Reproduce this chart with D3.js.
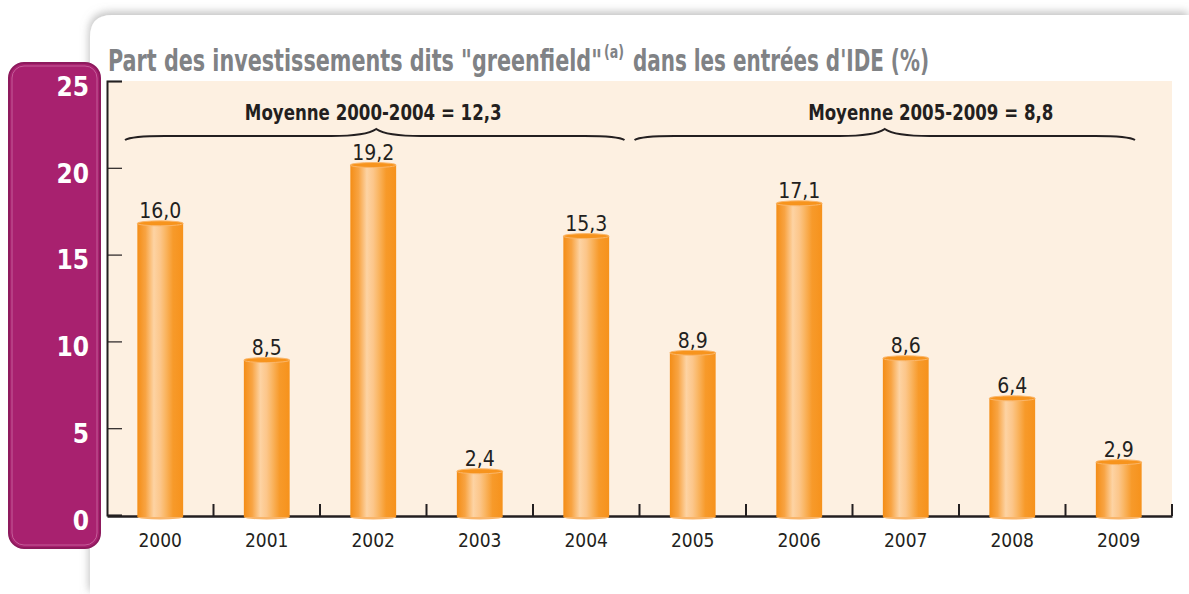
<!DOCTYPE html>
<html lang="fr">
<head>
<meta charset="utf-8">
<title>Part des investissements greenfield</title>
<script src="https://cdn.jsdelivr.net/npm/d3@7"></script>
<style>
  body{ margin:0; background:#fff; }
  svg{ display:block; }
  .narrow{ font-family:"DejaVu Sans Condensed","DejaVu Sans","Liberation Sans Narrow",sans-serif; font-stretch:condensed; }
</style>
</head>
<body>
<div id="chart"></div>
<script>
// data
var years = ["2000","2001","2002","2003","2004","2005","2006","2007","2008","2009"]
var shares = [16.0, 8.5, 19.2, 2.4, 15.3, 8.9, 17.1, 8.6, 6.4, 2.9]
var yTicks = [0, 5, 10, 15, 20, 25]
var averages = [
  {label:"Moyenne 2000-2004 = 12,3", from:"2000", to:"2004"},
  {label:"Moyenne 2005-2009 = 8,8", from:"2005", to:"2009"}
]

var W = 1189, H = 594
var pLeft = 107, pRight = 1172, pTop = 81, pBottom = 515

var svg = d3.select("#chart").append("svg").attr("width", W).attr("height", H)
var defs = svg.append("defs")

var shadow = defs.append("filter").attr("id","shadow").attr("x","-5%").attr("y","-5%").attr("width","110%").attr("height","110%")
shadow.append("feDropShadow").attr("dx",-1).attr("dy",-3).attr("stdDeviation",4)
  .attr("flood-color","#8a8a8a").attr("flood-opacity",0.55)

var grad = defs.append("linearGradient").attr("id","barGrad").attr("x1","0").attr("x2","1").attr("y1","0").attr("y2","0")
var stops = [[0,"#f48d16"],[0.18,"#f8a443"],[0.36,"#fdd3a3"],[0.5,"#fcc68a"],[0.6,"#fab868"],[0.78,"#f79a2a"],[1,"#f6921c"]]
stops.forEach(function(s){ grad.append("stop").attr("offset",s[0]).attr("stop-color",s[1]) })

// white card
svg.append("path")
  .attr("d","M90,594 L90,37 Q90,15 112,15 L1189,15 L1189,594 Z")
  .attr("fill","#fff").attr("filter","url(#shadow)")

// title, in three pieces so the footnote mark sits raised
var tg = svg.append("g").attr("class","narrow").attr("font-weight","bold").attr("fill","#808285")
tg.append("text").attr("x",108).attr("y",71).attr("font-size",31)
  .attr("textLength",494).attr("lengthAdjust","spacingAndGlyphs")
  .text('Part des investissements dits "greenfield"')
tg.append("text").attr("x",604).attr("y",58).attr("font-size",18)
  .attr("textLength",20).attr("lengthAdjust","spacingAndGlyphs").text("(a)")
tg.append("text").attr("x",633).attr("y",71).attr("font-size",31)
  .attr("textLength",296).attr("lengthAdjust","spacingAndGlyphs")
  .text("dans les entrées d'IDE (%)")

// plot background
svg.append("rect").attr("x",pLeft).attr("y",pTop).attr("width",pRight-pLeft).attr("height",pBottom-pTop+1)
  .attr("fill","#fdf0e1")

// purple axis panel
svg.append("rect").attr("x",9).attr("y",63).attr("width",91).attr("height",485).attr("rx",15)
  .attr("fill","#a8216f").attr("stroke","#8d1a5d").attr("stroke-width",2)
svg.append("rect").attr("x",12).attr("y",66).attr("width",85).attr("height",479).attr("rx",12)
  .attr("fill","none").attr("stroke","#c45d99").attr("stroke-width",1)

var x = d3.scaleBand().domain(years).range([pLeft, pRight]).padding(0)
var y = d3.scaleLinear().domain([0, 25]).range([pBottom, pTop])
// the bars in the original sit about 5% above their own axis
var yBar = d3.scaleLinear().domain([0, 25/1.05]).range([pBottom, pTop])

// y axis, ticks pointing into the plot, labels on the purple panel
var yAxis = svg.append("g").attr("transform","translate("+pLeft+",0)")
  .call(d3.axisLeft(y).tickValues(yTicks).tickSize(-15).tickPadding(18))
yAxis.select(".domain").attr("stroke","#231f20").attr("stroke-width",2)
yAxis.selectAll(".tick line").attr("stroke","#231f20").attr("stroke-width",1.2)
yAxis.selectAll(".tick text").attr("class","narrow").attr("font-size",26).attr("font-weight","bold")
  .attr("fill","#fff").attr("dy","0.55em")

// x axis
var xAxis = svg.append("g").attr("transform","translate(0,"+(pBottom+1)+")")
  .call(d3.axisBottom(x).tickSize(0).tickPadding(18))
xAxis.select(".domain").attr("stroke","#231f20").attr("stroke-width",2.5)
xAxis.selectAll(".tick text").attr("class","narrow").attr("font-size",19).attr("fill","#231f20")
svg.append("g").selectAll("line").data(years).join("line")
  .attr("x1",function(d){ return x(d)+x.bandwidth() }).attr("x2",function(d){ return x(d)+x.bandwidth() })
  .attr("y1",pBottom+1).attr("y2",pBottom-11)
  .attr("stroke","#231f20").attr("stroke-width",2)

// bars
var bw = x.bandwidth()*0.43
var bars = svg.append("g").selectAll("g").data(shares).join("g")
  .attr("transform",function(d,i){ return "translate("+(x(years[i])+x.bandwidth()/2)+",0)" })
bars.append("ellipse").attr("cx",0).attr("cy",pBottom+2).attr("rx",bw/2).attr("ry",2.5).attr("fill","#f9b56a")
bars.append("rect").attr("x",-bw/2).attr("width",bw)
  .attr("y",function(d){ return yBar(d) }).attr("height",function(d){ return pBottom+2-yBar(d) })
  .attr("fill","url(#barGrad)")
bars.append("ellipse").attr("cx",0).attr("cy",function(d){ return yBar(d) }).attr("rx",bw/2).attr("ry",2.5)
  .attr("fill","#f7941d").attr("stroke","#fbb76b").attr("stroke-width",1)
bars.append("text").attr("class","narrow").attr("text-anchor","middle")
  .attr("y",function(d){ return yBar(d)-5 })
  .attr("font-size",21).attr("fill","#231f20")
  .text(function(d){ return d3.format(".1f")(d).replace(".",",") })

// averages with braces
function bracePath(x1, x2, xm, yl){
  return "M"+x1+","+(yl+4)+" Q"+(x1+6)+","+(yl)+" "+(x1+40)+","+(yl) +
    " L"+(xm-45)+","+yl+" Q"+(xm-10)+","+yl+" "+xm+","+(yl-7) +
    " Q"+(xm+10)+","+yl+" "+(xm+45)+","+yl +
    " L"+(x2-40)+","+yl+" Q"+(x2-6)+","+yl+" "+x2+","+(yl+4)
}
var braceOff = [[18,-15,3,0],[-5,-37,-21,25]]
var avg = svg.append("g").selectAll("g").data(averages).join("g")
avg.append("path")
  .attr("d",function(d,i){
    var x1 = x(d.from)+braceOff[i][0], x2 = x(d.to)+x.bandwidth()+braceOff[i][1]
    var xm = (x(d.from)+x(d.to)+x.bandwidth())/2+braceOff[i][2]
    return bracePath(x1, x2, xm, 136)
  })
  .attr("fill","none").attr("stroke","#231f20").attr("stroke-width",2)
avg.append("text").attr("class","narrow").attr("text-anchor","middle")
  .attr("x",function(d,i){ return (x(d.from)+x(d.to)+x.bandwidth())/2+braceOff[i][3] })
  .attr("y",120).attr("font-size",21).attr("font-weight","bold").attr("fill","#231f20")
  .text(function(d){ return d.label })
  .each(function(){ this.setAttribute("textLength", this.getComputedTextLength()*0.88) })
  .attr("lengthAdjust","spacingAndGlyphs")
</script>
</body>
</html>
